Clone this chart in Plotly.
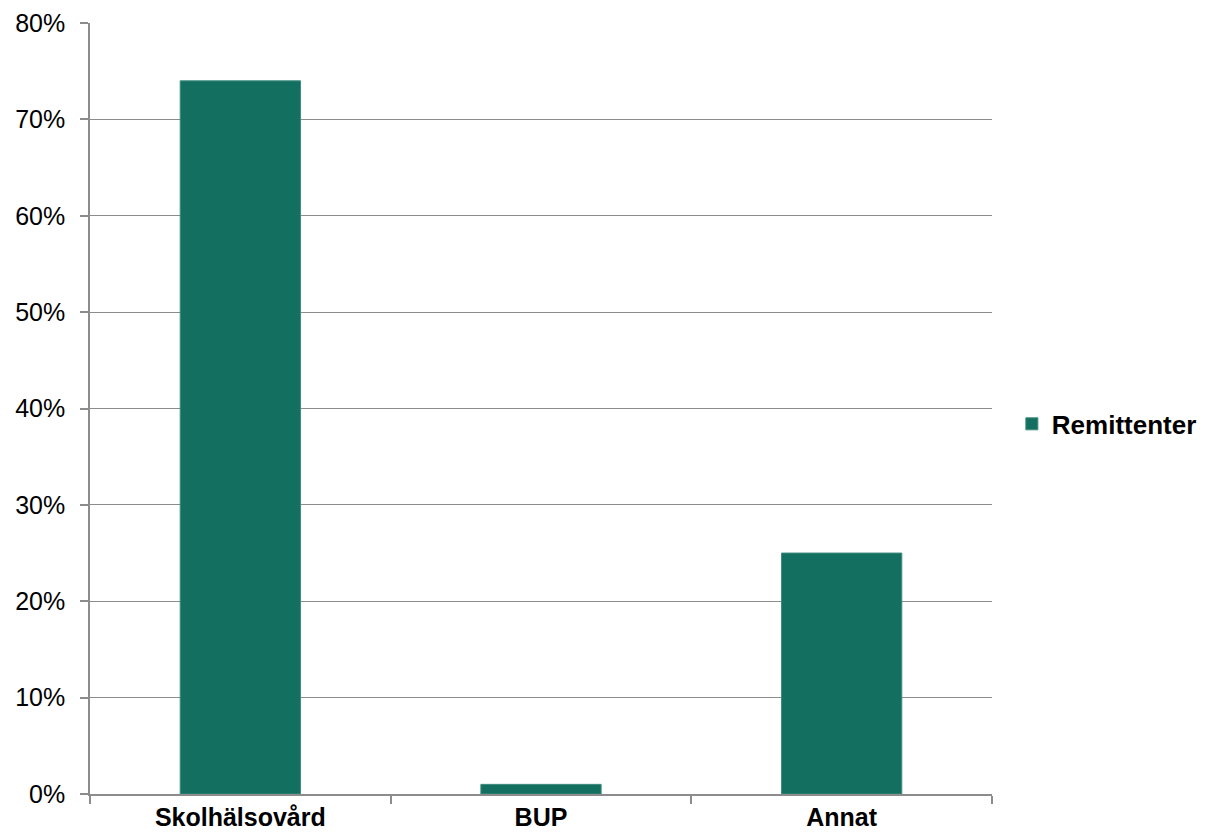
import plotly.graph_objects as go

categories = ["Skolhälsovård", "BUP", "Annat"]
values = [0.74, 0.01, 0.25]
series_name = "Remittenter"
y_ticks = [0, 0.1, 0.2, 0.3, 0.4, 0.5, 0.6, 0.7, 0.8]

bar_color = "#136f60"
grid_color = "#8c8c8c"
font_family = "Liberation Sans, Arial, sans-serif"

fig = go.Figure()
fig.add_trace(go.Bar(
    x=categories, y=values, name=series_name,
    marker=dict(color=bar_color, line=dict(color="#3f8c7e", width=1)),
    showlegend=True,
))

fig.update_layout(
    width=1206, height=836,
    margin=dict(l=90, r=214, t=23, b=42, autoexpand=False),
    paper_bgcolor="white", plot_bgcolor="white",
    bargap=0.6,
    font=dict(family=font_family, color="#000000"),
    showlegend=True,
    legend=dict(
        x=1.022, xanchor="left", y=0.48, yanchor="middle",
        font=dict(family=font_family, size=26, color="#000000", weight="bold"),
        itemwidth=30, bgcolor="rgba(0,0,0,0)",
    ),
    xaxis=dict(
        type="category", automargin=False,
        showline=True, linecolor=grid_color, linewidth=1.5,
        ticks="outside", tickson="boundaries", ticklen=8, tickcolor=grid_color, tickwidth=1.5,
        tickfont=dict(family=font_family, size=25, color="#000000", weight="bold"),
        ticklabelstandoff=0,
        showgrid=False,
    ),
    yaxis=dict(
        range=[0, 0.8], tickvals=y_ticks, tickformat=".0%", automargin=False,
        showline=True, linecolor=grid_color, linewidth=1.5,
        ticks="outside", ticklen=8, tickcolor=grid_color, tickwidth=1.5,
        tickfont=dict(family=font_family, size=25, color="#000000"),
        ticklabelstandoff=10,
        showgrid=True, gridcolor=grid_color, gridwidth=1.2,
        zeroline=False,
    ),
)

fig.write_html("out.html")
